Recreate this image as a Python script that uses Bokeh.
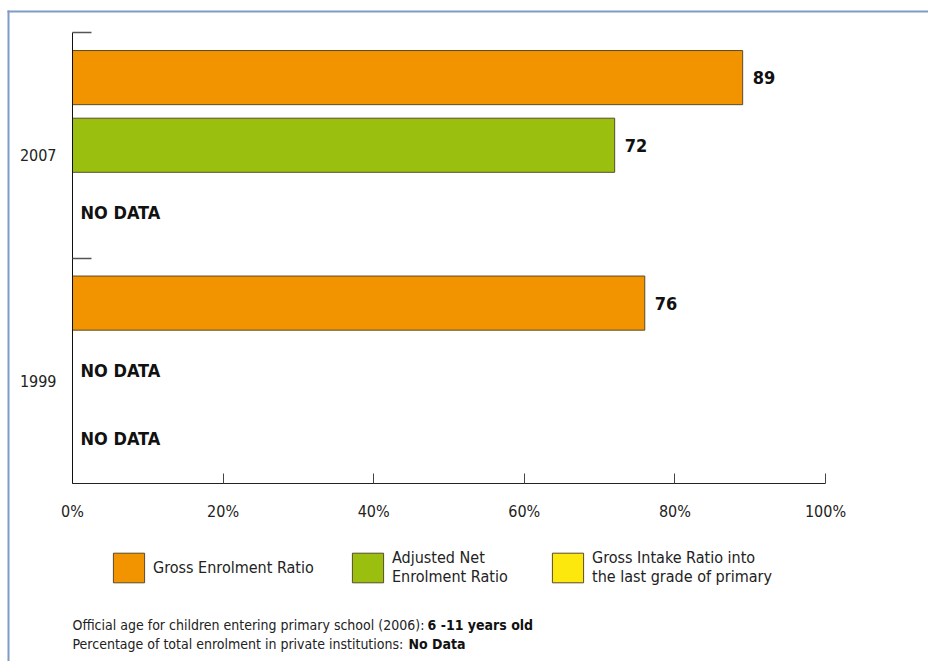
from bokeh.plotting import figure
from bokeh.models import (Range1d, FixedTicker, PrintfTickFormatter, Label, Legend,
                          LegendItem, BoxAnnotation, LinearAxis)
from bokeh.core.properties import value
from bokeh.embed import file_html
from bokeh.resources import INLINE

# ---------------- data ----------------
years = ["2007", "1999"]
indicators = ["Gross Enrolment Ratio",
              "Adjusted Net\nEnrolment Ratio",
              "Gross Intake Ratio into\nthe last grade of primary"]
ger = [89, 76]          # Gross Enrolment Ratio
aner = [72, None]       # Adjusted Net Enrolment Ratio
gir = [None, None]      # Gross Intake Ratio into last grade
colors = ["#F29400", "#9BBF0F", "#FCE80C"]
x_ticks = [0, 20, 40, 60, 80, 100]
footer_lines = [("Official age for children entering primary school (2006): ", "6 -11 years old"),
                ("Percentage of total enrolment in private institutions: ", "No Data")]

FONT = "DejaVu Sans Condensed, Liberation Sans Narrow, Roboto, sans-serif"
series = [ger, aner, gir]
n_groups = len(years)
slot_offsets = [0.2, 0.5, 0.8]

# ---------------- layout (pixels) ----------------
W, H = 928, 661
AX_L, AX_R = 72, 825        # 0% and 100% positions
AX_T, AX_B = 32, 483        # top and bottom of the value axis area
px_x = (AX_R - AX_L) / 100.0
px_y = (AX_B - AX_T) / n_groups


def ypos(g, i):
    return (n_groups - g) - slot_offsets[i]


p = figure(width=W, height=H, min_border=0,
           x_range=Range1d(-AX_L / px_x, (W - AX_L) / px_x),
           y_range=Range1d(-(H - AX_B) / px_y, n_groups + AX_T / px_y),
           x_axis_location=None, y_axis_location=None,
           output_backend="svg", toolbar_location=None)
p.outline_line_color = None
p.grid.visible = False
p.background_fill_color = "white"
p.border_fill_color = "white"

# bars + labels
val_x, val_y, val_t = [], [], []
nd_y = []
legend_x = [109, 348, 548]
legend_bottom = 75
for i, (ser, col) in enumerate(zip(series, colors)):
    xs, ys = [], []
    for g, v in enumerate(ser):
        ys.append(ypos(g, i))
        if v is None:
            xs.append(float("nan"))
            nd_y.append(ypos(g, i))
        else:
            xs.append(v)
            val_x.append(v)
            val_y.append(ypos(g, i))
            val_t.append(str(v))
    r = p.hbar(y=ys, left=0, right=xs, height=0.24, fill_color=col,
               line_color="#5a4a2a", line_width=1)
    leg = Legend(items=[LegendItem(label=indicators[i], renderers=[r], index=0)],
                 location=(legend_x[i], legend_bottom),
                 padding=0, margin=0, border_line_color=None, background_fill_alpha=0,
                 glyph_width=39, glyph_height=37, label_standoff=5,
                 label_text_font=FONT, label_text_font_size="16px",
                 label_text_color="#222222")
    p.add_layout(leg, "center")

p.text(x=val_x, y=val_y, text=val_t, x_offset=10, text_font=value(FONT),
       text_font_style="bold", text_font_size="18px", text_baseline="middle",
       text_color="#111111")
p.text(x=[0] * len(nd_y), y=nd_y, text=["NO DATA"] * len(nd_y), x_offset=8,
       text_font=value(FONT), text_font_style="bold", text_font_size="18px",
       text_baseline="middle", text_color="#111111")

# x axis
xa = LinearAxis(fixed_location=0, bounds=(0, 100))
xa.ticker = FixedTicker(ticks=x_ticks)
xa.formatter = PrintfTickFormatter(format="%d%%")
xa.major_tick_in = 10
xa.major_tick_out = 0
xa.minor_tick_line_color = None
xa.major_tick_line_color = "#444444"
xa.axis_line_color = "#222222"
xa.major_label_standoff = 18
xa.major_label_text_font = FONT
xa.major_label_text_font_size = "16px"
xa.major_label_text_color = "#222222"
p.add_layout(xa, "below")

# y axis: year labels at group centres, boundary ticks as minor ticks
ya = LinearAxis(fixed_location=0, bounds=(0, n_groups))
label_ticks = [n_groups - g - 0.5 - 0.045 for g in range(n_groups)]
ya.ticker = FixedTicker(ticks=label_ticks, minor_ticks=list(range(1, n_groups + 1)))
ya.major_label_overrides = {t: y for t, y in zip(label_ticks, years)}
ya.major_tick_line_color = None
ya.minor_tick_in = 19
ya.minor_tick_out = 0
ya.minor_tick_line_color = "#555555"
ya.minor_tick_line_width = 1.5
ya.axis_line_color = "#111111"
ya.major_label_standoff = 10
ya.major_label_text_font = FONT
ya.major_label_text_font_size = "16px"
ya.major_label_text_color = "#222222"
p.add_layout(ya, "left")

# frame border lines
border_col = "#7F9CC4"
p.add_layout(BoxAnnotation(left=7, right=9, bottom=0, top=H - 10,
                           left_units="screen", right_units="screen",
                           bottom_units="screen", top_units="screen",
                           fill_color=border_col, fill_alpha=1, line_color=None))
p.add_layout(BoxAnnotation(left=7, right=W, bottom=H - 12, top=H - 10,
                           left_units="screen", right_units="screen",
                           bottom_units="screen", top_units="screen",
                           fill_color=border_col, fill_alpha=1, line_color=None))

# footer
bold_x = [427, 408]
footer_y = [H - 624, H - 643]
for k, (norm, bold) in enumerate(footer_lines):
    p.add_layout(Label(x=AX_L, y=footer_y[k], x_units="screen", y_units="screen", text=norm,
                       text_font=FONT, text_font_size="14px", text_baseline="middle",
                       text_color="#222222"))
    p.add_layout(Label(x=bold_x[k], y=footer_y[k], x_units="screen", y_units="screen",
                       text=bold, text_font=FONT, text_font_size="14px",
                       text_font_style="bold", text_baseline="middle", text_color="#111111"))

open("out.html", "w").write(file_html(p, INLINE))
